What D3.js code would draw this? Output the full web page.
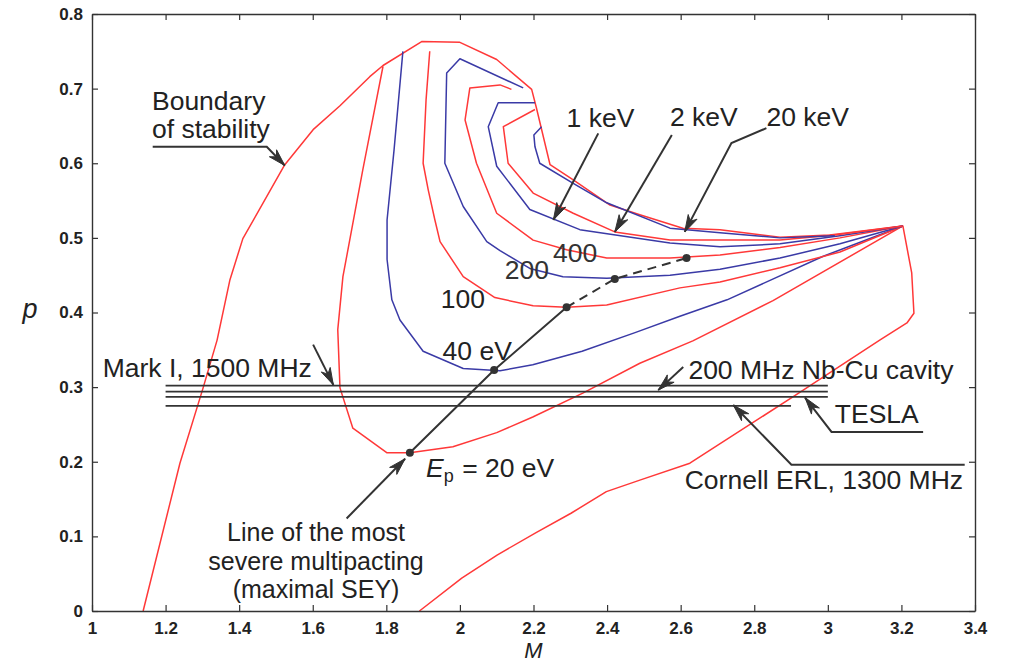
<!DOCTYPE html>
<html><head><meta charset="utf-8">
<script src="https://cdn.jsdelivr.net/npm/d3@7"></script>
<style>
html,body{margin:0;padding:0;background:#fff;}
svg{display:block;}
</style></head>
<body>
<svg id="chart" width="1011" height="664"></svg>
<script>
// ---------- DATA (M, p) ----------
const xTickValues = [1,1.2,1.4,1.6,1.8,2,2.2,2.4,2.6,2.8,3,3.2,3.4];
const yTickValues = [0,0.1,0.2,0.3,0.4,0.5,0.6,0.7,0.8];

const boundary = [[1.139,0],[1.239,0.198],[1.302,0.299],[1.340,0.363],[1.375,0.444],[1.410,0.499],[1.524,0.598],[1.601,0.645],[1.674,0.677],[1.755,0.716],[1.791,0.731],[1.896,0.763],[2.0,0.762],[2.10,0.739],[2.195,0.699],[2.208,0.674],[2.245,0.598],[2.307,0.578],[2.408,0.544],[2.489,0.531],[2.606,0.513],[2.707,0.511],[2.870,0.501],[3.005,0.504],[3.204,0.516],[3.228,0.453],[3.234,0.399],[3.215,0.386],[3.141,0.363],[2.905,0.287],[2.625,0.198],[2.493,0.176],[2.398,0.160],[2.302,0.131],[2.207,0.105],[2.101,0.075],[2.005,0.044],[1.890,0]];
const ep20 = [[1.791,0.730],[1.736,0.591],[1.682,0.448],[1.668,0.377],[1.674,0.299],[1.709,0.245],[1.802,0.212],[1.864,0.212],[1.981,0.220],[2.100,0.239],[2.198,0.260],[2.334,0.292],[2.489,0.332],[2.633,0.362],[2.851,0.416],[3.204,0.516]];
const ep40 = [[1.845,0.750],[1.821,0.618],[1.802,0.524],[1.802,0.471],[1.815,0.417],[1.837,0.390],[1.900,0.348],[2.009,0.325],[2.109,0.322],[2.198,0.330],[2.332,0.348],[2.476,0.373],[2.598,0.395],[2.726,0.417],[2.986,0.475],[3.204,0.516]];
const ep100 = [[1.918,0.750],[1.908,0.685],[1.900,0.600],[1.914,0.564],[1.932,0.524],[1.946,0.495],[2.009,0.448],[2.095,0.420],[2.199,0.409],[2.290,0.407],[2.399,0.410],[2.598,0.433],[2.707,0.441],[2.870,0.460],[3.033,0.481],[3.204,0.516]];
const ep200 = [[2.172,0.701],[2.0,0.740],[1.964,0.721],[1.959,0.600],[2.009,0.542],[2.073,0.495],[2.109,0.483],[2.190,0.459],[2.280,0.448],[2.399,0.446],[2.571,0.450],[2.707,0.458],[2.870,0.473],[3.033,0.492],[3.204,0.516]];
const ep400 = [[2.140,0.699],[2.109,0.705],[2.027,0.701],[2.014,0.658],[2.045,0.600],[2.100,0.533],[2.199,0.497],[2.290,0.484],[2.399,0.473],[2.571,0.473],[2.707,0.477],[2.870,0.487],[3.033,0.500],[3.204,0.516]];
const ep1k = [[2.204,0.681],[2.104,0.681],[2.077,0.649],[2.100,0.596],[2.190,0.538],[2.326,0.511],[2.571,0.493],[2.707,0.488],[2.870,0.492],[3.033,0.503],[3.204,0.516]];
const ep2k = [[2.204,0.672],[2.118,0.649],[2.131,0.600],[2.199,0.560],[2.308,0.533],[2.421,0.508],[2.571,0.497],[2.707,0.497],[2.870,0.497],[3.019,0.504],[3.204,0.516]];
const ep20k = [[2.222,0.649],[2.201,0.638],[2.204,0.622],[2.217,0.600],[2.308,0.573],[2.399,0.547],[2.571,0.513],[2.707,0.507],[2.870,0.500],[3.019,0.503]];

const severeSolid = [[1.864,0.212],[2.093,0.323],[2.290,0.407]];
const severeDashed = [[2.290,0.407],[2.421,0.445],[2.616,0.473]];

const cavityNames = ["Mark I","200 MHz Nb-Cu","TESLA","Cornell ERL"];
const cavityP = [0.302,0.294,0.287,0.275];
const cavityMStart = [1.2,1.2,1.2,1.2];
const cavityMEnd = [3.0,3.0,3.0,2.9];

// ---------- LAYOUT ----------
const W = 1011, H = 664;
const margin = {left:92, right:36, top:14, bottom:53};
const RED = "#ff3838", BLUE = "#3a3aa6", INK = "#222", ARW = "#333";
const FONT = "'Liberation Sans', Arial, Helvetica, sans-serif";
const FS = 26.5;

const svg = d3.select("#chart");
const x = d3.scaleLinear().domain([1,3.4]).range([margin.left, W - margin.right]);
const y = d3.scaleLinear().domain([0,0.8]).range([H - margin.bottom, margin.top]);

const line = d3.line().x(d => x(d[0])).y(d => y(d[1]));

// contours
const contours = [
  {d:boundary, c:RED},
  {d:ep20, c:RED},
  {d:ep40, c:BLUE},
  {d:ep100, c:RED},
  {d:ep200, c:BLUE},
  {d:ep400, c:RED},
  {d:ep1k, c:BLUE},
  {d:ep2k, c:RED},
  {d:ep20k, c:BLUE}
];
svg.append("g").selectAll("path").data(contours).join("path")
  .attr("d", d => line(d.d))
  .attr("fill","none").attr("stroke", d => d.c).attr("stroke-width",1.5)
  .attr("stroke-linejoin","round");

// cavity lines
svg.append("g").selectAll("line").data(cavityP).join("line")
  .attr("x1",(d,i)=>x(cavityMStart[i])).attr("x2",(d,i)=>x(cavityMEnd[i]))
  .attr("y1",d=>y(d)).attr("y2",d=>y(d))
  .attr("stroke","#333").attr("stroke-width",1.8);

// severe multipacting line
svg.append("path").attr("d", line(severeSolid)).attr("fill","none")
  .attr("stroke","#333").attr("stroke-width",2);
svg.append("path").attr("d", line(severeDashed)).attr("fill","none")
  .attr("stroke","#333").attr("stroke-width",2).attr("stroke-dasharray","9,6");
svg.append("g").selectAll("circle").data(severeSolid.concat(severeDashed.slice(1))).join("circle")
  .attr("cx",d=>x(d[0])).attr("cy",d=>y(d[1])).attr("r",4).attr("fill","#333");

// axes (frame with inward ticks)
function styleAxis(g){
  g.selectAll("path.domain").attr("stroke","#333").attr("stroke-width",1.4);
  g.selectAll(".tick line").attr("stroke","#333").attr("stroke-width",1.2);
  g.selectAll("text").attr("font-family",FONT).attr("font-weight","bold")
    .attr("font-size",17).attr("fill","#222");
}
const fmt = d3.format("~g");
svg.append("g").attr("transform",`translate(0,${y(0)})`)
  .call(d3.axisBottom(x).tickValues(xTickValues).tickFormat(fmt).tickSizeInner(-6).tickSizeOuter(0).tickPadding(11))
  .call(styleAxis);
svg.append("g").attr("transform",`translate(0,${y(0.8)})`)
  .call(d3.axisTop(x).tickValues(xTickValues).tickFormat("").tickSizeInner(-6).tickSizeOuter(0))
  .call(styleAxis);
svg.append("g").attr("transform",`translate(${x(1)},0)`)
  .call(d3.axisLeft(y).tickValues(yTickValues).tickFormat(fmt).tickSizeInner(-6).tickSizeOuter(0).tickPadding(9))
  .call(styleAxis);
svg.append("g").attr("transform",`translate(${x(3.4)},0)`)
  .call(d3.axisRight(y).tickValues(yTickValues).tickFormat("").tickSizeInner(-6).tickSizeOuter(0))
  .call(styleAxis);

// axis titles
svg.append("text").attr("x",30).attr("y",318).attr("text-anchor","middle")
  .attr("font-family",FONT).attr("font-style","italic").attr("font-size",27).attr("fill",INK).text("p");
svg.append("text").attr("x",(x(1)+x(3.4))/2).attr("y",658).attr("text-anchor","middle")
  .attr("font-family",FONT).attr("font-style","italic").attr("font-size",22).attr("fill",INK).text("M");

// annotations
const labels = [
  {t:"Boundary", M:1.163, p:0.672},
  {t:"of stability", M:1.163, p:0.634},
  {t:"1 keV", M:2.290, p:0.648},
  {t:"2 keV", M:2.571, p:0.650},
  {t:"20 keV", M:2.833, p:0.650},
  {t:"400", M:2.253, p:0.468, c:"#333"},
  {t:"200", M:2.122, p:0.445, c:"#333"},
  {t:"100", M:1.948, p:0.406},
  {t:"40 eV", M:1.953, p:0.337},
  {t:"Line of the most", M:1.609, p:0.0938, a:"middle", s:25},
  {t:"severe multipacting", M:1.609, p:0.0556, a:"middle", s:25},
  {t:"(maximal SEY)", M:1.609, p:0.0174, a:"middle", s:25},
  {t:"Mark I, 1500 MHz", M:1.029, p:0.313},
  {t:"200 MHz Nb-Cu cavity", M:2.621, p:0.311},
  {t:"TESLA", M:3.019, p:0.252},
  {t:"Cornell ERL, 1300 MHz", M:2.611, p:0.164}
];
svg.append("g").selectAll("text").data(labels).join("text")
  .attr("x",d=>x(d.M)).attr("y",d=>y(d.p))
  .attr("text-anchor",d=>d.a||"start")
  .attr("font-family",FONT).attr("font-size",d=>d.s||FS).attr("fill",d=>d.c||INK)
  .text(d=>d.t);

// E_p = 20 eV
const ep = svg.append("text").attr("x",x(1.908)).attr("y",y(0.180))
  .attr("font-family",FONT).attr("font-size",FS).attr("fill",INK);
ep.append("tspan").attr("font-style","italic").text("E");
ep.append("tspan").attr("font-size",18).attr("dy",5).text("p");
ep.append("tspan").attr("dy",-5).attr("dx",1).text(" = 20 eV");

const arrows = [
  [[1.165,0.622],[1.475,0.622],[1.524,0.597]],
  [[2.376,0.640],[2.254,0.524]],
  [[2.576,0.638],[2.421,0.508]],
  [[2.833,0.647],[2.738,0.627],[2.611,0.508]],
  [[1.692,0.124],[1.851,0.204]],
  [[1.601,0.357],[1.656,0.303]],
  [[2.607,0.327],[2.539,0.296]],
  [[3.259,0.240],[3.010,0.240],[2.938,0.286]],
  [[3.372,0.196],[2.901,0.196],[2.743,0.276]]
];
const ag = svg.append("g");
arrows.forEach(a => {
  ag.append("path").attr("d", line(a)).attr("fill","none")
    .attr("stroke",ARW).attr("stroke-width",2);
  const p1 = a[a.length-2], p2 = a[a.length-1];
  const x1 = x(p1[0]), y1 = y(p1[1]), x2 = x(p2[0]), y2 = y(p2[1]);
  const ang = Math.atan2(y2-y1, x2-x1);
  const L = 17, Wd = 5, N = 12;
  const ux = Math.cos(ang), uy = Math.sin(ang), px = -uy, py = ux;
  const pts = [
    [x2, y2],
    [x2 - L*ux + Wd*px, y2 - L*uy + Wd*py],
    [x2 - N*ux, y2 - N*uy],
    [x2 - L*ux - Wd*px, y2 - L*uy - Wd*py]
  ];
  ag.append("path").attr("d","M"+pts.map(p=>p.join(",")).join("L")+"Z")
    .attr("fill",ARW).attr("stroke",ARW).attr("stroke-width",1);
});
</script>
</body></html>
